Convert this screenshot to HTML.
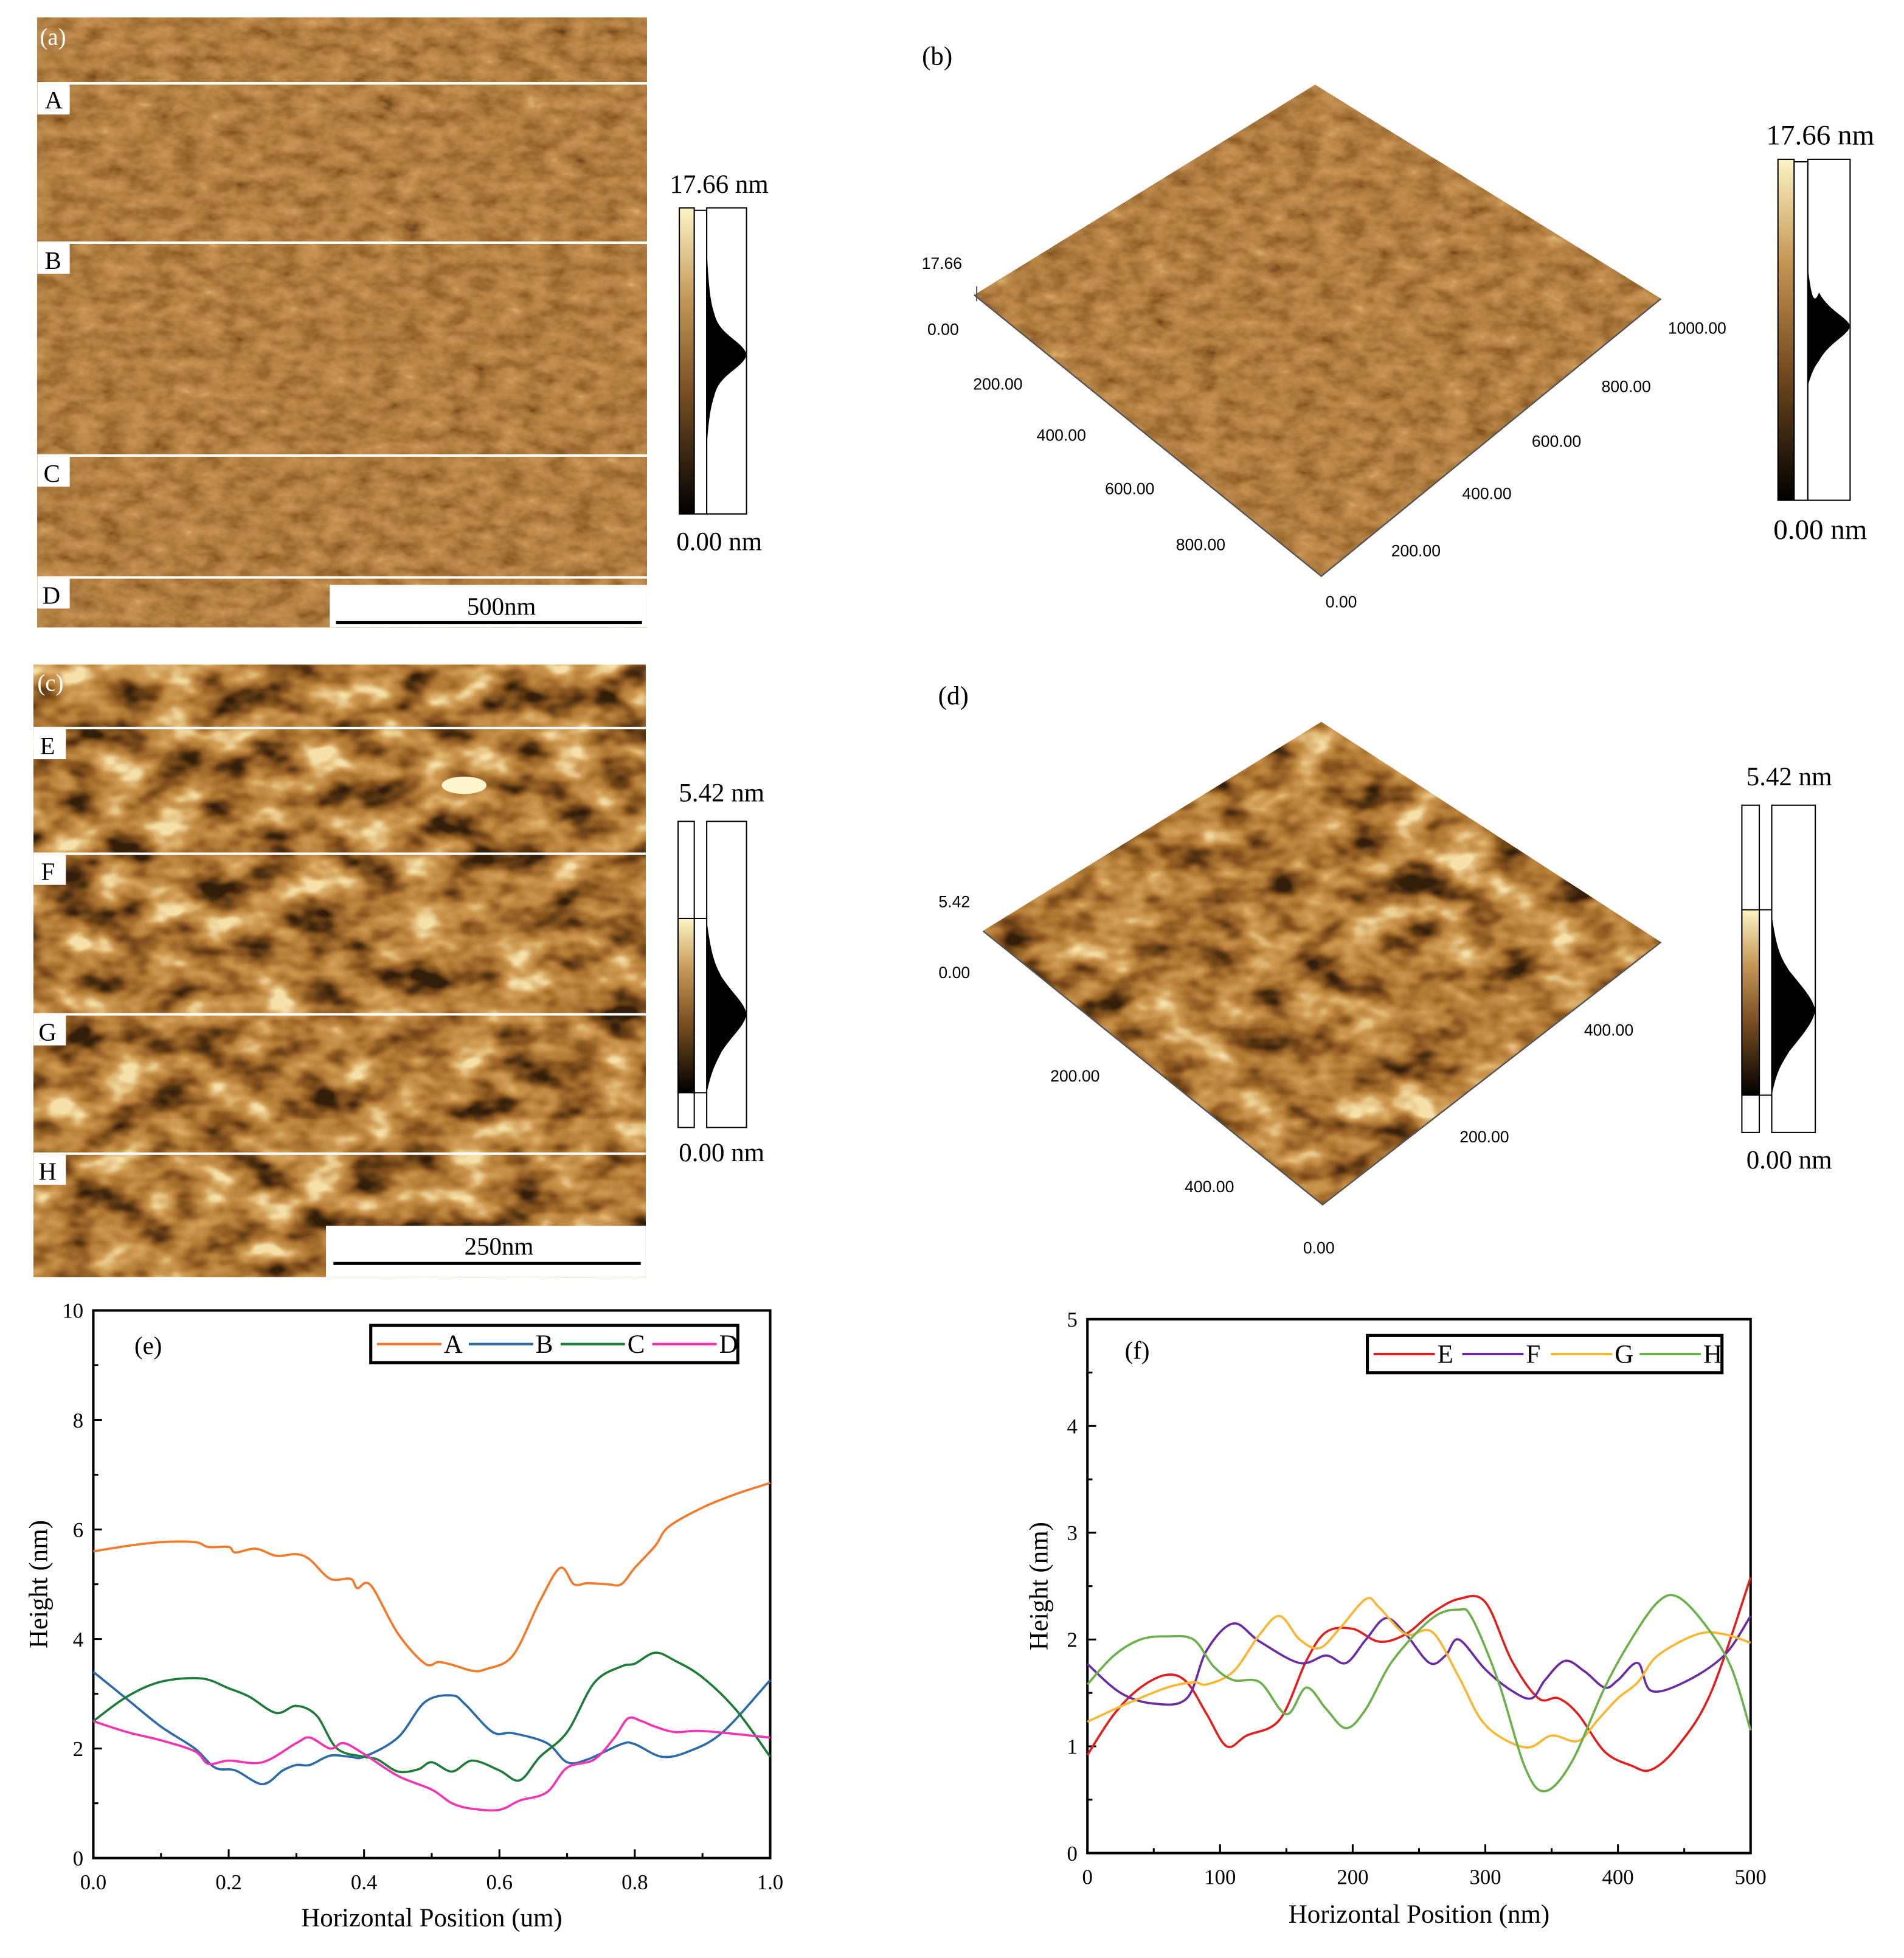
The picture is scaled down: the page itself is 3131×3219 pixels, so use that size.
<!DOCTYPE html>
<html><head><meta charset="utf-8">
<style>
html,body{margin:0;padding:0;background:#fff;}
svg{display:block;}
text{font-family:"Liberation Serif","DejaVu Serif",serif;}
text.sans{font-family:"Liberation Sans",sans-serif;}
</style></head>
<body>
<svg id="root" width="3131" height="3219" viewBox="0 0 1530.3 1573.3" xmlns="http://www.w3.org/2000/svg" font-family="Liberation Serif, serif">
<defs>
<filter id="afmA" x="0" y="0" width="100%" height="100%" color-interpolation-filters="sRGB">
<feTurbulence type="fractalNoise" baseFrequency="0.05 0.09" numOctaves="3" seed="3"/>
<feColorMatrix type="matrix" values="0.9 0 0 0 0.05  0.9 0 0 0 0.05  0.9 0 0 0 0.05  0 0 0 0 1"/>
<feComponentTransfer><feFuncR type="table" tableValues="0.3 0.58 0.7 0.78 0.92"/><feFuncG type="table" tableValues="0.18 0.39 0.5 0.58 0.8"/><feFuncB type="table" tableValues="0.06 0.17 0.26 0.33 0.5"/></feComponentTransfer>
</filter>
<filter id="afmC" x="0" y="0" width="100%" height="100%" color-interpolation-filters="sRGB">
<feTurbulence type="fractalNoise" baseFrequency="0.025 0.04" numOctaves="3" seed="7"/>
<feColorMatrix type="matrix" values="1.8 0 0 0 -0.4  1.8 0 0 0 -0.4  1.8 0 0 0 -0.4  0 0 0 0 1"/>
<feComponentTransfer><feFuncR type="table" tableValues="0.2 0.5 0.7 0.82 0.96"/><feFuncG type="table" tableValues="0.12 0.31 0.48 0.62 0.88"/><feFuncB type="table" tableValues="0.04 0.11 0.21 0.34 0.66"/></feComponentTransfer>
</filter>
<linearGradient id="cb1" x1="0" y1="1" x2="0" y2="0"><stop offset="0" stop-color="#000"/><stop offset="0.4" stop-color="#7a4f22"/><stop offset="0.7" stop-color="#c49656"/><stop offset="1" stop-color="#fdf4c4"/></linearGradient>
<clipPath id="clipB"><polygon points="1057,68 1335,240 1062,463 783,237"/></clipPath>
<clipPath id="clipD"><polygon points="1062,580 1335,757 1063,968 790,748"/></clipPath>
</defs>

<!-- (a) -->
<g>
<rect x="30" y="14" width="490" height="490" fill="#b98a50" filter="url(#afmA)"/>
<g fill="#fff"><rect x="30" y="66" width="490" height="2"/><rect x="30" y="194" width="490" height="2"/><rect x="30" y="365" width="490" height="2"/><rect x="30" y="463" width="490" height="2"/></g>
<text x="32" y="36" font-size="19" fill="#fff">(a)</text>
<g font-size="20"><rect x="30" y="68" width="26" height="24" fill="#fff"/><text x="36" y="87">A</text>
<rect x="30" y="196" width="26" height="24" fill="#fff"/><text x="36" y="216">B</text>
<rect x="30" y="367" width="26" height="24" fill="#fff"/><text x="35" y="387">C</text>
<rect x="30" y="465" width="26" height="24" fill="#fff"/><text x="34" y="485">D</text></g>
<rect x="265" y="470" width="255" height="34" fill="#fff"/><rect x="270" y="499" width="246" height="2.5" fill="#000"/>
<text x="403" y="494" font-size="20" text-anchor="middle">500nm</text>
</g>
<g>
<rect x="546" y="167" width="12" height="246" fill="url(#cb1)" stroke="#000"/>
<rect x="558" y="169" width="10" height="244" fill="#fff" stroke="#000"/>
<rect x="568" y="167" width="32" height="246" fill="#fff" stroke="#000"/>
<path d="M568,200 C570,240 572,245 575,255 C580,270 598,275 600,285 C598,295 580,300 575,315 C572,325 570,330 568,360 Z" fill="#000"/>
<text x="578" y="155" font-size="21" text-anchor="middle">17.66 nm</text>
<text x="578" y="442" font-size="21" text-anchor="middle">0.00 nm</text>
</g>

<!-- (b) -->
<g>
<text x="741" y="52" font-size="21">(b)</text>
<rect x="780" y="65" width="560" height="400" fill="#b98a50" filter="url(#afmA)" clip-path="url(#clipB)"/>
<polyline points="783,237 1062,463 1335,240" fill="none" stroke="#555" stroke-width="1.2"/>
<line x1="785" y1="230" x2="785" y2="242" stroke="#555"/>
<g font-size="13" text-anchor="middle">
<text class="sans" x="757" y="216">17.66</text><text class="sans" x="758" y="269">0.00</text>
<text class="sans" x="802" y="313">200.00</text><text class="sans" x="853" y="354">400.00</text><text class="sans" x="908" y="397">600.00</text><text class="sans" x="965" y="442">800.00</text>
<text class="sans" x="1078" y="488">0.00</text><text class="sans" x="1138" y="447">200.00</text><text class="sans" x="1195" y="401">400.00</text><text class="sans" x="1251" y="359">600.00</text><text class="sans" x="1307" y="315">800.00</text><text class="sans" x="1364" y="268">1000.00</text></g>
</g>
<g>
<rect x="1429" y="128" width="13" height="274" fill="url(#cb1)" stroke="#000"/>
<rect x="1442" y="130" width="11" height="272" fill="#fff" stroke="#000"/>
<rect x="1453" y="128" width="34" height="274" fill="#fff" stroke="#000"/>
<path d="M1453,215 C1456,240 1458,245 1462,235 C1470,250 1485,255 1487,262 C1485,270 1470,275 1462,290 C1458,295 1456,300 1453,310 Z" fill="#000"/>
<text x="1463" y="116" font-size="23" text-anchor="middle">17.66 nm</text>
<text x="1463" y="433" font-size="23" text-anchor="middle">0.00 nm</text>
</g>

<!-- (c) -->
<g>
<rect x="27" y="534" width="492" height="492" fill="#b98a50" filter="url(#afmC)"/>
<g fill="#fff"><rect x="27" y="584" width="492" height="2"/><rect x="27" y="685" width="492" height="2"/><rect x="27" y="814" width="492" height="2"/><rect x="27" y="926" width="492" height="2"/></g>
<ellipse cx="373" cy="631" rx="18" ry="7" fill="#fff6d0"/>
<text x="30" y="555" font-size="19" fill="#fff">(c)</text>
<g font-size="20"><rect x="27" y="586" width="26" height="24" fill="#fff"/><text x="32" y="606">E</text>
<rect x="27" y="687" width="26" height="24" fill="#fff"/><text x="33" y="707">F</text>
<rect x="27" y="816" width="26" height="24" fill="#fff"/><text x="31" y="836">G</text>
<rect x="27" y="928" width="26" height="24" fill="#fff"/><text x="31" y="948">H</text></g>
<rect x="262" y="985" width="257" height="41" fill="#fff"/><rect x="268" y="1014" width="247" height="2.5" fill="#000"/>
<text x="401" y="1008" font-size="20" text-anchor="middle">250nm</text>
</g>
<g>
<rect x="545" y="660" width="13" height="246" fill="#fff" stroke="#000"/>
<rect x="545" y="738" width="13" height="140" fill="url(#cb1)" stroke="#000"/>
<line x1="558" y1="738" x2="568" y2="738" stroke="#000"/><line x1="558" y1="878" x2="568" y2="878" stroke="#000"/>
<rect x="568" y="660" width="32" height="246" fill="#fff" stroke="#000"/>
<path d="M568,740 C572,770 575,775 580,785 C590,800 598,805 600,815 C598,825 590,830 580,845 C575,855 572,860 568,878 Z" fill="#000"/>
<text x="580" y="644" font-size="21" text-anchor="middle">5.42 nm</text>
<text x="580" y="933" font-size="21" text-anchor="middle">0.00 nm</text>
</g>

<!-- (d) -->
<g>
<text x="754" y="566" font-size="21">(d)</text>
<rect x="785" y="575" width="555" height="400" fill="#b98a50" filter="url(#afmC)" clip-path="url(#clipD)"/>
<polyline points="790,748 1063,968 1335,757" fill="none" stroke="#555" stroke-width="1.2"/>
<g font-size="13" text-anchor="middle">
<text class="sans" x="767" y="729">5.42</text><text class="sans" x="767" y="786">0.00</text>
<text class="sans" x="864" y="869">200.00</text><text class="sans" x="972" y="958">400.00</text><text class="sans" x="1060" y="1007">0.00</text>
<text class="sans" x="1193" y="918">200.00</text><text class="sans" x="1293" y="832">400.00</text></g>
</g>
<g>
<rect x="1400" y="647" width="14" height="263" fill="#fff" stroke="#000"/>
<rect x="1400" y="731" width="14" height="149" fill="url(#cb1)" stroke="#000"/>
<line x1="1414" y1="731" x2="1424" y2="731" stroke="#000"/><line x1="1414" y1="880" x2="1424" y2="880" stroke="#000"/>
<rect x="1424" y="647" width="35" height="263" fill="#fff" stroke="#000"/>
<path d="M1424,735 C1428,765 1432,770 1438,780 C1450,795 1457,802 1459,812 C1457,822 1450,830 1438,845 C1432,855 1428,860 1424,880 Z" fill="#000"/>
<text x="1438" y="631" font-size="21" text-anchor="middle">5.42 nm</text>
<text x="1438" y="939" font-size="21" text-anchor="middle">0.00 nm</text>
</g>

<g id="chartE"></g>
<g id="chartF"></g>
</svg>
<script>
// ---- chart (e) data ----
const eX_A=[0,0.05,0.1,0.15,0.17,0.2,0.21,0.24,0.27,0.3,0.32,0.35,0.38,0.39,0.41,0.45,0.49,0.51,0.53,0.56,0.58,0.62,0.66,0.69,0.71,0.73,0.76,0.78,0.8,0.83,0.85,0.9,0.95,1.0];
const eY_A=[5.6,5.7,5.77,5.77,5.68,5.68,5.58,5.65,5.52,5.55,5.45,5.1,5.1,4.93,4.98,4.1,3.55,3.58,3.53,3.42,3.45,3.7,4.7,5.3,5.0,5.02,5.0,5.0,5.3,5.7,6.05,6.4,6.65,6.85];
const eX_B=[0,0.05,0.1,0.15,0.18,0.21,0.25,0.28,0.3,0.32,0.35,0.38,0.4,0.45,0.49,0.53,0.55,0.59,0.62,0.67,0.7,0.73,0.78,0.8,0.84,0.88,0.93,1.0];
const eY_B=[3.4,2.9,2.4,2.0,1.65,1.6,1.35,1.6,1.7,1.7,1.87,1.85,1.85,2.2,2.85,2.97,2.8,2.3,2.28,2.1,1.75,1.8,2.08,2.08,1.85,1.95,2.3,3.25];
const eX_C=[0,0.05,0.1,0.16,0.2,0.23,0.27,0.3,0.33,0.36,0.4,0.42,0.45,0.48,0.5,0.53,0.56,0.6,0.63,0.66,0.7,0.74,0.78,0.8,0.83,0.86,0.9,0.95,1.0];
const eY_C=[2.5,2.95,3.22,3.28,3.1,2.95,2.65,2.78,2.6,2.0,1.85,1.8,1.58,1.62,1.75,1.58,1.78,1.6,1.42,1.85,2.3,3.2,3.5,3.55,3.75,3.6,3.3,2.7,1.85];
const eX_D=[0,0.05,0.1,0.15,0.17,0.2,0.25,0.3,0.32,0.35,0.37,0.4,0.45,0.5,0.53,0.56,0.6,0.63,0.67,0.7,0.74,0.77,0.79,0.81,0.83,0.86,0.9,1.0];
const eY_D=[2.5,2.3,2.15,1.95,1.72,1.78,1.75,2.1,2.2,2.0,2.1,1.9,1.5,1.25,1.0,0.9,0.88,1.05,1.2,1.65,1.8,2.2,2.55,2.5,2.4,2.3,2.32,2.2];
const eXTicks=["0.0","0.2","0.4","0.6","0.8","1.0"];
const eYTicks=["0","2","4","6","8","10"];
// ---- chart (f) data ----
const fX_E=[0,20,40,60,75,90,105,120,145,165,180,200,220,240,260,280,300,320,340,355,370,390,410,425,445,470,500];
const fY_E=[0.92,1.3,1.55,1.67,1.6,1.3,1.0,1.1,1.25,1.8,2.07,2.1,1.98,2.05,2.25,2.38,2.35,1.8,1.45,1.45,1.3,0.95,0.82,0.78,1.0,1.5,2.58];
const fX_F=[0,25,50,75,90,110,130,160,180,195,210,225,240,258,270,280,300,320,335,345,360,375,390,400,415,425,450,480,500];
const fY_F=[1.77,1.5,1.4,1.45,1.9,2.15,1.98,1.78,1.85,1.78,2.0,2.2,2.05,1.78,1.85,2.0,1.72,1.52,1.45,1.62,1.8,1.7,1.55,1.62,1.78,1.52,1.6,1.85,2.22];
const fX_G=[0,30,60,80,90,110,130,145,160,175,190,210,220,240,260,280,300,330,350,370,385,400,415,430,460,480,500];
const fY_G=[1.23,1.4,1.55,1.6,1.58,1.7,2.05,2.22,2.0,1.92,2.1,2.38,2.3,2.05,2.07,1.65,1.2,0.99,1.1,1.05,1.25,1.45,1.6,1.85,2.05,2.05,1.97];
const fX_H=[0,20,40,60,80,95,110,130,150,165,180,195,210,230,260,280,290,310,330,345,365,390,410,430,445,465,485,500];
const fY_H=[1.58,1.85,2.0,2.03,2.0,1.75,1.62,1.6,1.3,1.55,1.35,1.17,1.35,1.8,2.2,2.28,2.2,1.6,0.8,0.58,0.85,1.55,2.0,2.35,2.4,2.15,1.75,1.15];
const fXTicks=["0","100","200","300","400","500"];
const fYTicks=["0","1","2","3","4","5"];

const NS="http://www.w3.org/2000/svg";
function mk(tag,attrs,parent){const el=document.createElementNS(NS,tag);for(const k in attrs)el.setAttribute(k,attrs[k]);parent.appendChild(el);return el;}
function smooth(pts){let d="M"+pts[0][0].toFixed(2)+","+pts[0][1].toFixed(2);
 for(let i=0;i<pts.length-1;i++){const p0=pts[Math.max(0,i-1)],p1=pts[i],p2=pts[i+1],p3=pts[Math.min(pts.length-1,i+2)];
 const c1=[p1[0]+(p2[0]-p0[0])/6,p1[1]+(p2[1]-p0[1])/6],c2=[p2[0]-(p3[0]-p1[0])/6,p2[1]-(p3[1]-p1[1])/6];
 d+=" C"+c1[0].toFixed(2)+","+c1[1].toFixed(2)+" "+c2[0].toFixed(2)+","+c2[1].toFixed(2)+" "+p2[0].toFixed(2)+","+p2[1].toFixed(2);}
 return d;}
const SERIF="Liberation Serif, serif";
function chart(g,cfg){
 const {L,R,T,B,xmax,ymax,xTicks,yTicks,series,xTitle,label,labX,labY,leg,ytx,xty}=cfg;
 const sx=v=>L+(v/xmax)*(R-L), sy=v=>B-(v/ymax)*(B-T);
 const ax=mk('rect',{x:L,y:T,width:R-L,height:B-T,fill:'none',stroke:'#000','stroke-width':2},g);
 
 
 const nx=xTicks.length-1, ny=yTicks.length-1;
 for(let i=0;i<=nx*2;i++){const v=xmax*i/(nx*2),x=sx(v),len=i%2?4:7;
  mk('line',{x1:x,y1:B,x2:x,y2:B-len,stroke:'#000','stroke-width':1.5},g);}
 xTicks.forEach((t,i)=>{const el=mk('text',{x:sx(xmax*i/nx),y:B+25,'font-size':17,'text-anchor':'middle','font-family':SERIF},g);el.textContent=t;
  
  });
 for(let i=0;i<=ny*2;i++){const v=ymax*i/(ny*2),y=sy(v),len=i%2?4:7;
  mk('line',{x1:L,y1:y,x2:L+len,y2:y,stroke:'#000','stroke-width':1.5},g);}
 yTicks.forEach((t,i)=>{const el=mk('text',{x:L-8,y:sy(ymax*i/ny)+6,'font-size':17,'text-anchor':'end','font-family':SERIF},g);el.textContent=t;
  
  });
 series.forEach(s=>{const pts=s.x.map((v,i)=>[sx(v),sy(s.y[i])]);
  const p=mk('path',{d:smooth(pts),fill:'none',stroke:s.c,'stroke-width':1.8},g);
  
  });
 const xt=mk('text',{x:(L+R)/2,y:xty,'font-size':21,'text-anchor':'middle','font-family':SERIF},g);xt.textContent=xTitle;
 
 
 const yt=mk('text',{x:0,y:0,'font-size':21,'text-anchor':'middle','font-family':SERIF,transform:`translate(${ytx},${(T+B)/2}) rotate(-90)`},g);yt.textContent="Height (nm)";
 
 
 const lb=mk('text',{x:labX,y:labY,'font-size':20,'font-family':SERIF},g);lb.textContent=label;
 
 
 const lg=mk('g',{},g);
 
 
 mk('rect',{x:leg.x,y:leg.y,width:leg.w,height:leg.h,fill:'#fff',stroke:'#000','stroke-width':2.5},lg);
 const seg=leg.w/series.length;
 series.forEach((s,i)=>{const x0=leg.x+5+i*seg,cy=leg.y+leg.h/2;
  const ln=mk('line',{x1:x0,y1:cy,x2:x0+seg-22,y2:cy,stroke:s.c,'stroke-width':2},lg);
  
  
  const t=mk('text',{x:x0+seg-20,y:cy+7,'font-size':21,'font-family':SERIF},lg);t.textContent=s.n;
  
  });
}
chart(document.getElementById('chartE'),{L:75,R:619,T:1053,B:1493,xmax:1,ymax:10,xTicks:eXTicks,yTicks:eYTicks,
 series:[{n:'A',x:eX_A,y:eY_A,c:'#f37a2b'},{n:'B',x:eX_B,y:eY_B,c:'#2c6ba6'},{n:'C',x:eX_C,y:eY_C,c:'#1e7b39'},{n:'D',x:eX_D,y:eY_D,c:'#f233b2'}],
 xTitle:'Horizontal Position (um)',label:'(e)',labX:108,labY:1088,leg:{x:298,y:1065,w:295,h:30},ytx:38,xty:1548});
chart(document.getElementById('chartF'),{L:874,R:1407,T:1060,B:1489,xmax:500,ymax:5,xTicks:fXTicks,yTicks:fYTicks,
 series:[{n:'E',x:fX_E,y:fY_E,c:'#e01f1f'},{n:'F',x:fX_F,y:fY_F,c:'#6b2ca2'},{n:'G',x:fX_G,y:fY_G,c:'#f7b733'},{n:'H',x:fX_H,y:fY_H,c:'#6bb04b'}],
 xTitle:'Horizontal Position (nm)',label:'(f)',labX:904,labY:1092,leg:{x:1099,y:1073,w:285,h:30},ytx:842,xty:1545});
</script>
</body></html>
